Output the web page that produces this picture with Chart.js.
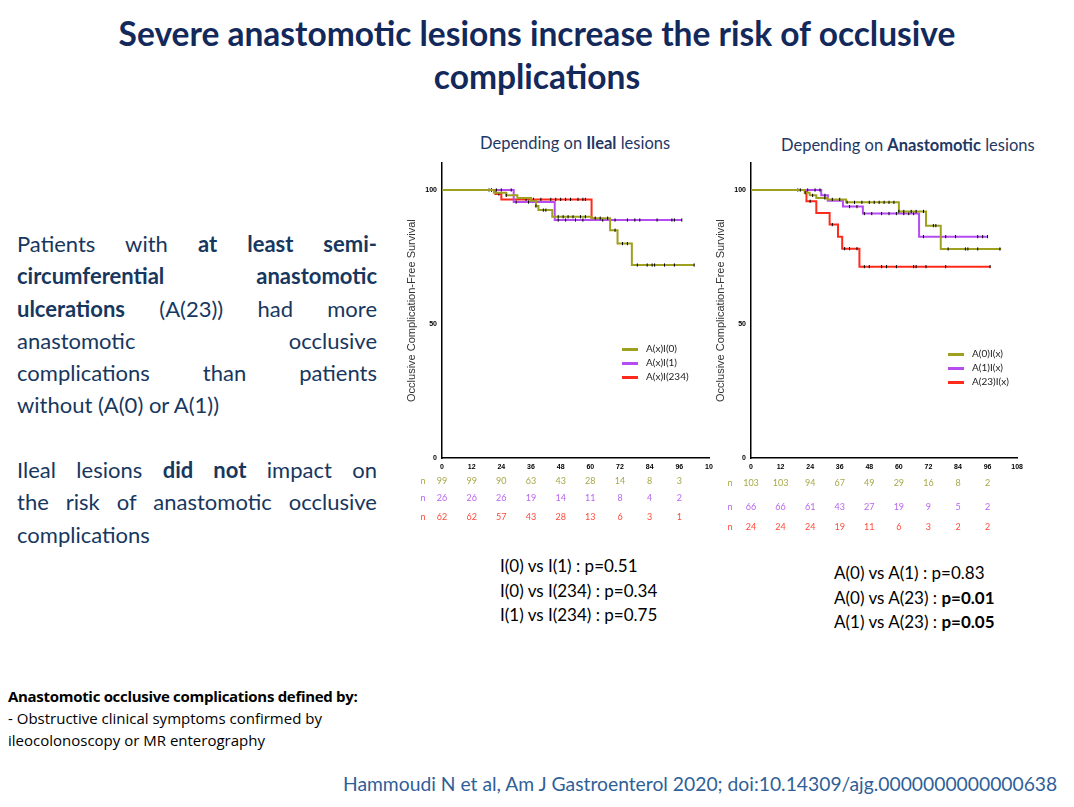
<!DOCTYPE html>
<html><head><meta charset="utf-8">
<script src="https://cdn.jsdelivr.net/npm/chart.js@4"></script>
<style>
body{margin:0;width:1074px;height:807px;background:#fff;position:relative;font-family:Lato,"Open Sans",sans-serif;overflow:hidden}
.abs{position:absolute}
#title{left:0;width:1074px;top:12px;text-align:center;font-weight:bold;font-size:33.5px;line-height:43px;color:#13295b}
.para{left:17px;width:360px;font-size:22px;line-height:32.3px;color:#17375e}
.para div{text-align:justify;text-align-last:justify;white-space:nowrap}
.para div.l{text-align-last:left}
.sub{font-size:16.5px;color:#1f3864;white-space:nowrap}
.pv{font-size:17px;line-height:24.5px;color:#000;white-space:nowrap}
.leg{font-size:10px;color:#222;line-height:14px;white-space:nowrap}
.leg span{display:inline-block;width:16px;height:2.5px;vertical-align:middle;margin-right:8px}
canvas{position:absolute}
</style></head><body>
<div id="title" class="abs">Severe anastomotic lesions increase the risk of occlusive<br>complications</div>
<div class="abs para" style="top:228px">
<div>Patients with <b>at least semi-</b></div>
<div><b>circumferential anastomotic</b></div>
<div><b>ulcerations</b> (A(23)) had more</div>
<div>anastomotic occlusive</div>
<div>complications than patients</div>
<div class="l">without (A(0) or A(1))</div>
</div>
<div class="abs para" style="top:454px">
<div>Ileal lesions <b>did not</b> impact on</div>
<div>the risk of anastomotic occlusive</div>
<div class="l">complications</div>
</div>
<div class="abs sub" style="left:480px;top:133px">Depending on <b>Ileal</b> lesions</div>
<div class="abs sub" style="left:781px;top:135px">Depending on <b>Anastomotic</b> lesions</div>
<div class="abs pv" style="left:500px;top:554px">I(0) vs I(1) : p=0.51<br>I(0) vs I(234) : p=0.34<br>I(1) vs I(234) : p=0.75</div>
<div class="abs pv" style="left:834px;top:561px">A(0) vs A(1) : p=0.83<br>A(0) vs A(23) : <b>p=0.01</b><br>A(1) vs A(23) : <b>p=0.05</b></div>
<div class="abs" style="left:8px;top:685px;font-family:'Open Sans',sans-serif;font-size:15px;line-height:22px;color:#000;white-space:nowrap"><b style="letter-spacing:-0.3px">Anastomotic occlusive complications defined by:</b><br>- Obstructive clinical symptoms confirmed by<br>ileocolonoscopy or MR enterography</div>
<div class="abs" style="left:343px;top:772px;font-size:19.3px;color:#2f5f98;white-space:nowrap">Hammoudi N et al, Am J Gastroenterol 2020; doi:10.14309/ajg.0000000000000638</div>
<canvas id="c1" style="left:405px;top:158px;width:310px;height:375px" width="310" height="375"></canvas>
<canvas id="c2" style="left:714px;top:158px;width:310px;height:375px" width="310" height="375"></canvas>
<div class="abs leg" style="left:622px;top:341px"><span style="background:#a0a020"></span>A(x)I(0)<br><span style="background:#b54cf2"></span>A(x)I(1)<br><span style="background:#ff2a1a"></span>A(x)I(234)</div>
<div class="abs leg" style="left:948px;top:346px"><span style="background:#a0a020"></span>A(0)I(x)<br><span style="background:#b54cf2"></span>A(1)I(x)<br><span style="background:#ff2a1a"></span>A(23)I(x)</div>
<script>
// Left chart (ileal lesions)
const I0_t=[0,21,26,30.5,36,38,39,44.6,60.5,68,71,76.8,102];
const I0_s=[100,99,98,97,96,94,92.5,90,89.5,85,80,72,72];
const I1_t=[0,29,45.6,97];
const I1_s=[100,95.5,88.8,88.8];
const I234_t=[0,21.6,24,60.5,62];
const I234_s=[100,98.5,96.5,89.5,89.5];
const I0_c=[26,38,41,42,47,49,51,53,56,58,62,64,67,70,73,75,79,83,85,86,90,94,102];
const I1_c=[20,22,24,28,30,35,47,50,54,57,65,70,75,78,80,87,93,94,97];
const I234_c=[19,20,23,34,37,40,44,46,48,50,52,55,57,58];
const riskL=[[99,99,90,63,43,28,14,8,3],[26,26,26,19,14,11,8,4,2],[62,62,57,43,28,13,6,3,1]];
// Right chart (anastomotic lesions)
const A0_t=[0,21.8,23.8,26.5,31,38.6,60,71,77,101.5];
const A0_s=[100,99,98,97,96.5,95.4,92,86.7,78,78];
const A1_t=[0,28.5,31.2,37.3,45.4,68.2,96];
const A1_s=[100,98,96,93.8,91.2,82.6,82.6];
const A23_t=[0,22.5,26.5,31.9,35.3,37,44,97.2];
const A23_s=[100,95.8,91.4,87.1,82.6,78.1,71.4,71.4];
const A0_c=[20,22,25,30,33,36,39,42,45,48,50,52,54,56,58,60,62,65,67,70,74,75,80,87,88,92,101];
const A1_c=[19,23,26,28,30,40,43,46,49,53,56,59,62,64,66,70,79,83,92,94,96];
const A23_c=[24,33,38,40,43,46,48,53,55,59,66,67,71,79,97];
const riskR=[[103,103,94,67,49,29,16,8,2],[66,66,61,43,27,19,9,5,2],[24,24,24,19,11,6,3,2,2]];
const riskT=[0,12,24,36,48,60,72,84,96];
const cols=['#a0a020','#b54cf2','#ff2a1a'];
const txtCols=['#a8a848','#b866f0','#ff4a3a'];

function surv(t,s,x){let v=s[0];for(let i=0;i<t.length;i++){if(t[i]<=x)v=s[i];}return v;}
function ser(t,s,c,col){return [
 {type:'scatter',data:c.map(x=>({x,y:surv(t,s,x)})),pointStyle:'line',rotation:90,radius:1.6,borderColor:'#000',borderWidth:1},
 {type:'line',data:t.map((x,i)=>({x,y:s[i]})),borderColor:col,borderWidth:2,stepped:'before',pointRadius:0,fill:false}
];}
function make(id,sets,risk,xTicks,riskY,nX){
 const plug={id:'risk',afterDraw(ch){const g=ch.ctx,xs=ch.scales.x;g.save();g.font='9px Lato, sans-serif';g.textAlign='center';g.textBaseline='middle';
  risk.forEach((row,r)=>{g.fillStyle=txtCols[r];g.fillText('n',nX,riskY[r]);row.forEach((v,i)=>g.fillText(String(v),xs.getPixelForValue(riskT[i]),riskY[r]));});g.restore();}};
 new Chart(document.getElementById(id),{data:{datasets:sets.flat()},plugins:[plug],
 options:{responsive:false,animation:false,layout:{padding:{top:5,right:6,left:0,bottom:0}},
  plugins:{legend:{display:false},tooltip:{enabled:false}},
  scales:{
   x:{type:'linear',min:0,max:108,afterBuildTicks:a=>{a.ticks=xTicks.map(v=>({value:v}))},
      ticks:{font:{size:7,weight:'bold'},color:'#000',maxRotation:0,padding:1,callback:(v)=>v===108&&id==='c1'?'10':String(v)},
      grid:{display:false,drawTicks:true,tickLength:4,tickColor:'#000'},border:{color:'#000',width:1.5},
      afterFit:s=>{s.height=75}},
   y:{min:0,max:110,afterBuildTicks:a=>{a.ticks=[0,50,100].map(v=>({value:v}))},
      ticks:{font:{size:7,weight:'bold'},color:'#000',padding:1},
      grid:{display:false,tickLength:4,tickColor:'#000'},border:{color:'#000',width:1.5},
      title:{display:true,text:'Occlusive Complication-Free Survival',font:{size:11},color:'#333',padding:0},
      afterFit:s=>{s.width=37}}
  }}});
}
make('c1',[ser(I0_t,I0_s,I0_c,cols[0]),ser(I1_t,I1_s,I1_c,cols[1]),ser(I234_t,I234_s,I234_c,cols[2])],riskL,[0,12,24,36,48,60,72,84,96,108],[323,340,359],18);
make('c2',[ser(A0_t,A0_s,A0_c,cols[0]),ser(A1_t,A1_s,A1_c,cols[1]),ser(A23_t,A23_s,A23_c,cols[2])],riskR,[0,12,24,36,48,60,72,84,96,108],[325,349,369],16);
</script>
</body></html>
